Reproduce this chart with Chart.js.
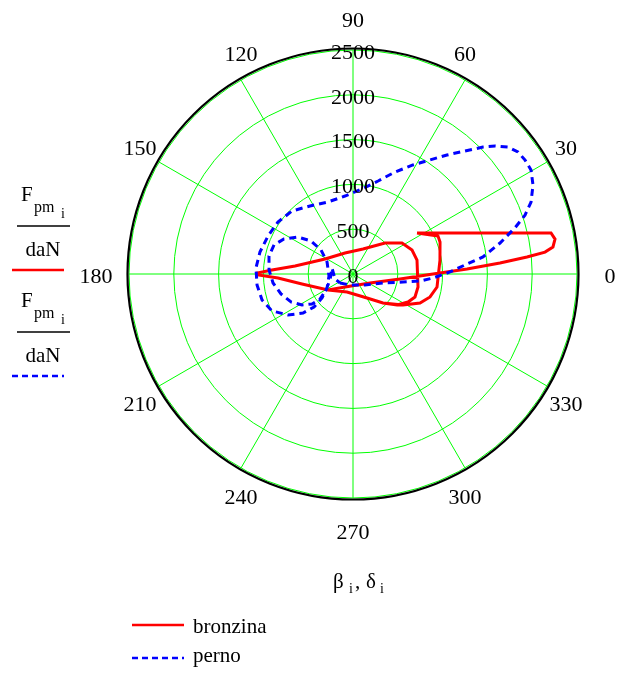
<!DOCTYPE html>
<html lang="it">
<head>
    <meta charset="UTF-8">
    <title>Diagramma polare carichi</title>
    <script src="https://cdn.jsdelivr.net/npm/chart.js"></script>
    <style>
        body { margin: 0; background: #fff; }
        #polarChart { position: absolute; left: 0; top: 0; }
    </style>
</head>
<body>
    <canvas id="polarChart" width="618" height="675"></canvas>

    <script type="text/javascript">
        // carico sulla bronzina: angolo beta (gradi) e modulo Fpm (daN)
        const bronzinaAng = [32.6, 11.7, 9.8, 7.7, 6.5, 5.6, 4.3, 2.5, 0, 353.9, 332, 238.4, 212.6, 191.1, 183.1, 180.6, 179.4, 177.2, 172.1, 151.8,
            110.9, 68.2, 44.1, 32.3, 22.1, 12.3, 348.7, 339.6, 333.0, 324.8, 316.0, 300.3, 251.6, 212.6, 251.6, 300.3, 316.0, 328.2, 336.6, 343.4,
            351.2, 9.1, 20.2, 24.1, 32.6];
        const bronzinaF = [848, 2257, 2288, 2252, 2157, 1951, 1645, 1274, 893, 528, 215, 170, 331, 580, 838, 1060, 1071, 905, 653, 354,
            251, 301, 497, 647, 711, 731, 740, 738, 689, 601, 466, 310, 212, 331, 212, 310, 466, 657, 815, 897,
            949, 983, 1035, 1039, 848];

        // carico sul perno: angolo delta (gradi) e modulo Fpm (daN)
        const pernoAng = [214.7, 254.7, 317.5, 343.3, 350.9, 354.0, 357.1, 1.2, 5.0, 7.5, 11.9, 15.9, 18.9, 22.0, 26.3, 30.3, 33.5, 36.5, 39.3, 42.0,
            44.3, 47.7, 51.7, 56.0, 61.2, 67.6, 74.9, 84.0, 95.9, 109.1, 122.3, 134.1, 145.3, 155.9, 166.7, 176.5, 186.5, 196.0, 204.5, 212.2,
            218.0, 220.2, 217.7, 208.3, 184.8, 155.2, 143.1, 141.8, 146.1, 153.1, 159.8, 167.9, 177.3, 186.4, 195.5, 204.3, 211.3, 216.2, 217.1, 210.6,
            194.6, 164.1, 195.5, 214.7];
        const pernoF = [176, 127, 182, 350, 565, 752, 894, 1083, 1277, 1463, 1677, 1880, 2029, 2143, 2241, 2301, 2303, 2290, 2236, 2134,
            2028, 1857, 1692, 1535, 1389, 1231, 1075, 954, 875, 851, 898, 979, 1019, 1039, 1067, 1085, 1078, 1056, 994, 858,
            708, 570, 437, 329, 269, 319, 446, 596, 740, 864, 939, 959, 938, 898, 834, 759, 666, 567, 462, 350,
            265, 244, 208, 176];

        // cerchi della griglia e raggi angolari
        const radialTicks = [0, 500, 1000, 1500, 2000, 2500];
        const angleTicks = [0, 30, 60, 90, 120, 150, 180, 210, 240, 270, 300, 330];
        const rMax = 2500;

        // da polare a cartesiano per lo scatter
        function toXY(ang, val) {
            return ang.map(function (a, i) {
                var t = a * Math.PI / 180;
                return { x: val[i] * Math.cos(t), y: val[i] * Math.sin(t) };
            });
        }

        const SERIF = '"Liberation Serif", "Times New Roman", serif';

        // griglia polare sotto le curve
        const polarGrid = {
            id: 'polarGrid',
            beforeDatasetsDraw: function (chart) {
                var c = chart.ctx, sx = chart.scales.x, sy = chart.scales.y;
                var cx = sx.getPixelForValue(0), cy = sy.getPixelForValue(0);
                var k = sx.getPixelForValue(rMax) - cx;
                c.save();
                c.strokeStyle = '#00ff00';
                c.lineWidth = 1;
                radialTicks.forEach(function (v) {
                    if (v === 0) return;
                    c.beginPath();
                    c.arc(cx, cy, v / rMax * k, 0, Math.PI * 2);
                    c.stroke();
                });
                angleTicks.forEach(function (a) {
                    var t = a * Math.PI / 180;
                    c.beginPath();
                    c.moveTo(cx, cy);
                    c.lineTo(cx + k * Math.cos(t), cy - k * Math.sin(t));
                    c.stroke();
                });
                // bordo esterno nero
                c.strokeStyle = '#000';
                c.lineWidth = 2.2;
                c.beginPath();
                c.arc(cx, cy, k + 1.5, 0, Math.PI * 2);
                c.stroke();
                c.restore();
            },
            afterDatasetsDraw: function (chart) {
                var c = chart.ctx, sx = chart.scales.x, sy = chart.scales.y;
                var cx = sx.getPixelForValue(0), cy = sy.getPixelForValue(0);
                var k = sx.getPixelForValue(rMax) - cx;
                c.save();
                c.fillStyle = '#000';
                c.font = '22px ' + SERIF;
                c.textAlign = 'center';
                c.textBaseline = 'middle';
                // valori sui cerchi, lungo l'asse verticale
                radialTicks.forEach(function (v) {
                    c.fillText(String(v), cx, cy - v / rMax * k + 3);
                });
                // etichette degli angoli
                angleTicks.forEach(function (a) {
                    var t = a * Math.PI / 180;
                    var s = Math.sin(t);
                    var rx = k + 33 - 44 * s * s;
                    c.fillText(String(a), cx + rx * Math.cos(t), cy - (k + 32) * s + 3);
                });
                c.restore();
            }
        };

        // etichette dell'asse e legenda
        const sideLabels = {
            id: 'sideLabels',
            afterDraw: function (chart) {
                var c = chart.ctx;
                c.save();
                c.fillStyle = '#000';
                c.textBaseline = 'alphabetic';

                function fraction(y0) {
                    c.textAlign = 'left';
                    c.font = '21px ' + SERIF;
                    c.fillText('F', 21, y0);
                    c.font = '16px ' + SERIF;
                    c.fillText('pm', 34, y0 + 11);
                    c.font = '14px ' + SERIF;
                    c.fillText('i', 61, y0 + 17);
                    c.strokeStyle = '#000';
                    c.lineWidth = 1.5;
                    c.setLineDash([]);
                    c.beginPath();
                    c.moveTo(17, y0 + 25);
                    c.lineTo(70, y0 + 25);
                    c.stroke();
                    c.textAlign = 'center';
                    c.font = '21px ' + SERIF;
                    c.fillText('daN', 43, y0 + 55);
                }

                function sample(x0, x1, y, color, dash) {
                    c.strokeStyle = color;
                    c.lineWidth = 2.5;
                    c.setLineDash(dash);
                    c.beginPath();
                    c.moveTo(x0, y);
                    c.lineTo(x1, y);
                    c.stroke();
                    c.setLineDash([]);
                }

                fraction(201);
                sample(12, 64, 270, '#ff0000', []);
                fraction(307);
                sample(12, 64, 376, '#0000ff', [6, 4]);

                // angoli sull'asse orizzontale
                c.textAlign = 'left';
                c.font = '21px ' + SERIF;
                c.fillText('\u03b2', 333, 588);
                c.font = '14px ' + SERIF;
                c.fillText('i', 349, 593);
                c.font = '21px ' + SERIF;
                c.fillText(',', 355, 588);
                c.fillText('\u03b4', 366, 588);
                c.font = '14px ' + SERIF;
                c.fillText('i', 380, 593);

                // legenda
                sample(132, 184, 625, '#ff0000', []);
                sample(132, 184, 658, '#0000ff', [6, 4]);
                c.font = '21px ' + SERIF;
                c.fillText('bronzina', 193, 633);
                c.fillText('perno', 193, 662);
                c.restore();
            }
        };

        var ctx = document.querySelector('#polarChart');

        new Chart(ctx, {
            type: 'scatter',
            data: {
                datasets: [
                    {
                        label: 'perno',
                        data: toXY(pernoAng, pernoF),
                        showLine: true,
                        borderColor: '#0000ff',
                        borderWidth: 3,
                        borderDash: [7, 5],
                        pointRadius: 0,
                        tension: 0
                    },
                    {
                        label: 'bronzina',
                        data: toXY(bronzinaAng, bronzinaF),
                        showLine: true,
                        borderColor: '#ff0000',
                        borderWidth: 3,
                        pointRadius: 0,
                        tension: 0
                    }
                ]
            },
            options: {
                responsive: false,
                animation: false,
                layout: { padding: { left: 129, right: 41, top: 50, bottom: 177 } },
                scales: {
                    x: { display: false, min: -rMax, max: rMax },
                    y: { display: false, min: -rMax, max: rMax }
                },
                plugins: {
                    legend: { display: false },
                    tooltip: { enabled: false }
                }
            },
            plugins: [polarGrid, sideLabels]
        });
    </script>
</body>
</html>
